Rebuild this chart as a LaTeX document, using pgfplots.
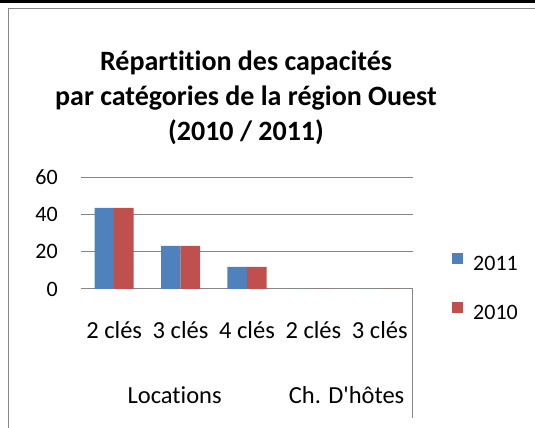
\documentclass[border=0pt]{standalone}
\usepackage{pgfplots}
\pgfplotsset{compat=1.18}
\usepackage{fontspec}
\setmainfont{Carlito}[Ligatures={TeXOff,CommonOff}]
\definecolor{sblue}{RGB}{79,129,189}
\definecolor{sred}{RGB}{192,80,77}
\definecolor{gridgray}{RGB}{134,134,134}
\begin{document}
\begin{tikzpicture}[x=1pt,y=1pt]
\path[use as bounding box] (0,0) rectangle (535,428);
% chart border
\fill[black] (0,425) rectangle (535,428);
\draw[gridgray,line width=1pt] (8.5,0) -- (8.5,419.5) -- (535,419.5);
% title
\node[anchor=base,font=\fontsize{28pt}{32pt}\selectfont\bfseries] at (246,357) {Répartition des capacités};
\node[anchor=base,font=\fontsize{28pt}{32pt}\selectfont\bfseries] at (246,322) {par catégories de la région Ouest};
\node[anchor=base,font=\fontsize{28pt}{32pt}\selectfont\bfseries] at (246,287) {(2010 / 2011)};
\begin{axis}[
  at={(81pt,139pt)}, anchor=south west,
  scale only axis, width=332pt, height=112pt,
  xmin=-0.5, xmax=4.5, ymin=0, ymax=60,
  ybar=0pt, bar width=19.5pt,
  xtick={0,1,2,3,4},
  xticklabels={2 clés,3 clés,4 clés,2 clés,3 clés},
  ytick={0,20,40,60},
  axis x line=bottom, axis y line=left,
  x axis line style={draw=gridgray, line width=1pt, -},
  y axis line style={draw=none},
  major tick length=0pt,
  ymajorgrids, grid style={gridgray, line width=1pt},
  /pgf/number format/assume math mode=true,
  tick label style={font=\fontsize{22pt}{26pt}\selectfont, inner sep=0pt},
  xticklabel style={anchor=base, yshift=-49pt, font=\fontsize{24.5pt}{28pt}\selectfont},
  yticklabel style={anchor=east, xshift=-23pt},
  legend style={at={(1.1175,0)}, anchor=west, draw=none, fill=none,
    inner sep=0pt, row sep=26pt,
    nodes={inner sep=0pt, text height=15pt, text depth=5pt, font=\fontsize{22pt}{26pt}\selectfont},
    /tikz/every odd column/.append style={column sep=10pt}},
  legend cell align=left,
  legend image code/.code={\fill[#1] (0pt,2pt) rectangle (11pt,13pt);},
  clip=false,
]
\addplot[fill=sblue, draw=none] coordinates {(0,43.5) (1,23.1) (2,11.8) (3,0) (4,0)};
\addlegendentry{2011}
\addplot[fill=sred, draw=none] coordinates {(0,43.5) (1,23.1) (2,11.8) (3,0) (4,0)};
\addlegendentry{2010}
\draw[gridgray, line width=1pt] (axis cs:4.5,0) -- ([yshift=-129pt]axis cs:4.5,0);
\node[anchor=base, font=\fontsize{24.5pt}{28pt}\selectfont] at (axis cs:1,0) [yshift=-114pt, xshift=-6pt] {Locations};
\node[anchor=base, font=\fontsize{24.5pt}{28pt}\selectfont] at (axis cs:3.5,0) [yshift=-114pt] {Ch. D'hôtes};
\end{axis}
\end{tikzpicture}
\end{document}
